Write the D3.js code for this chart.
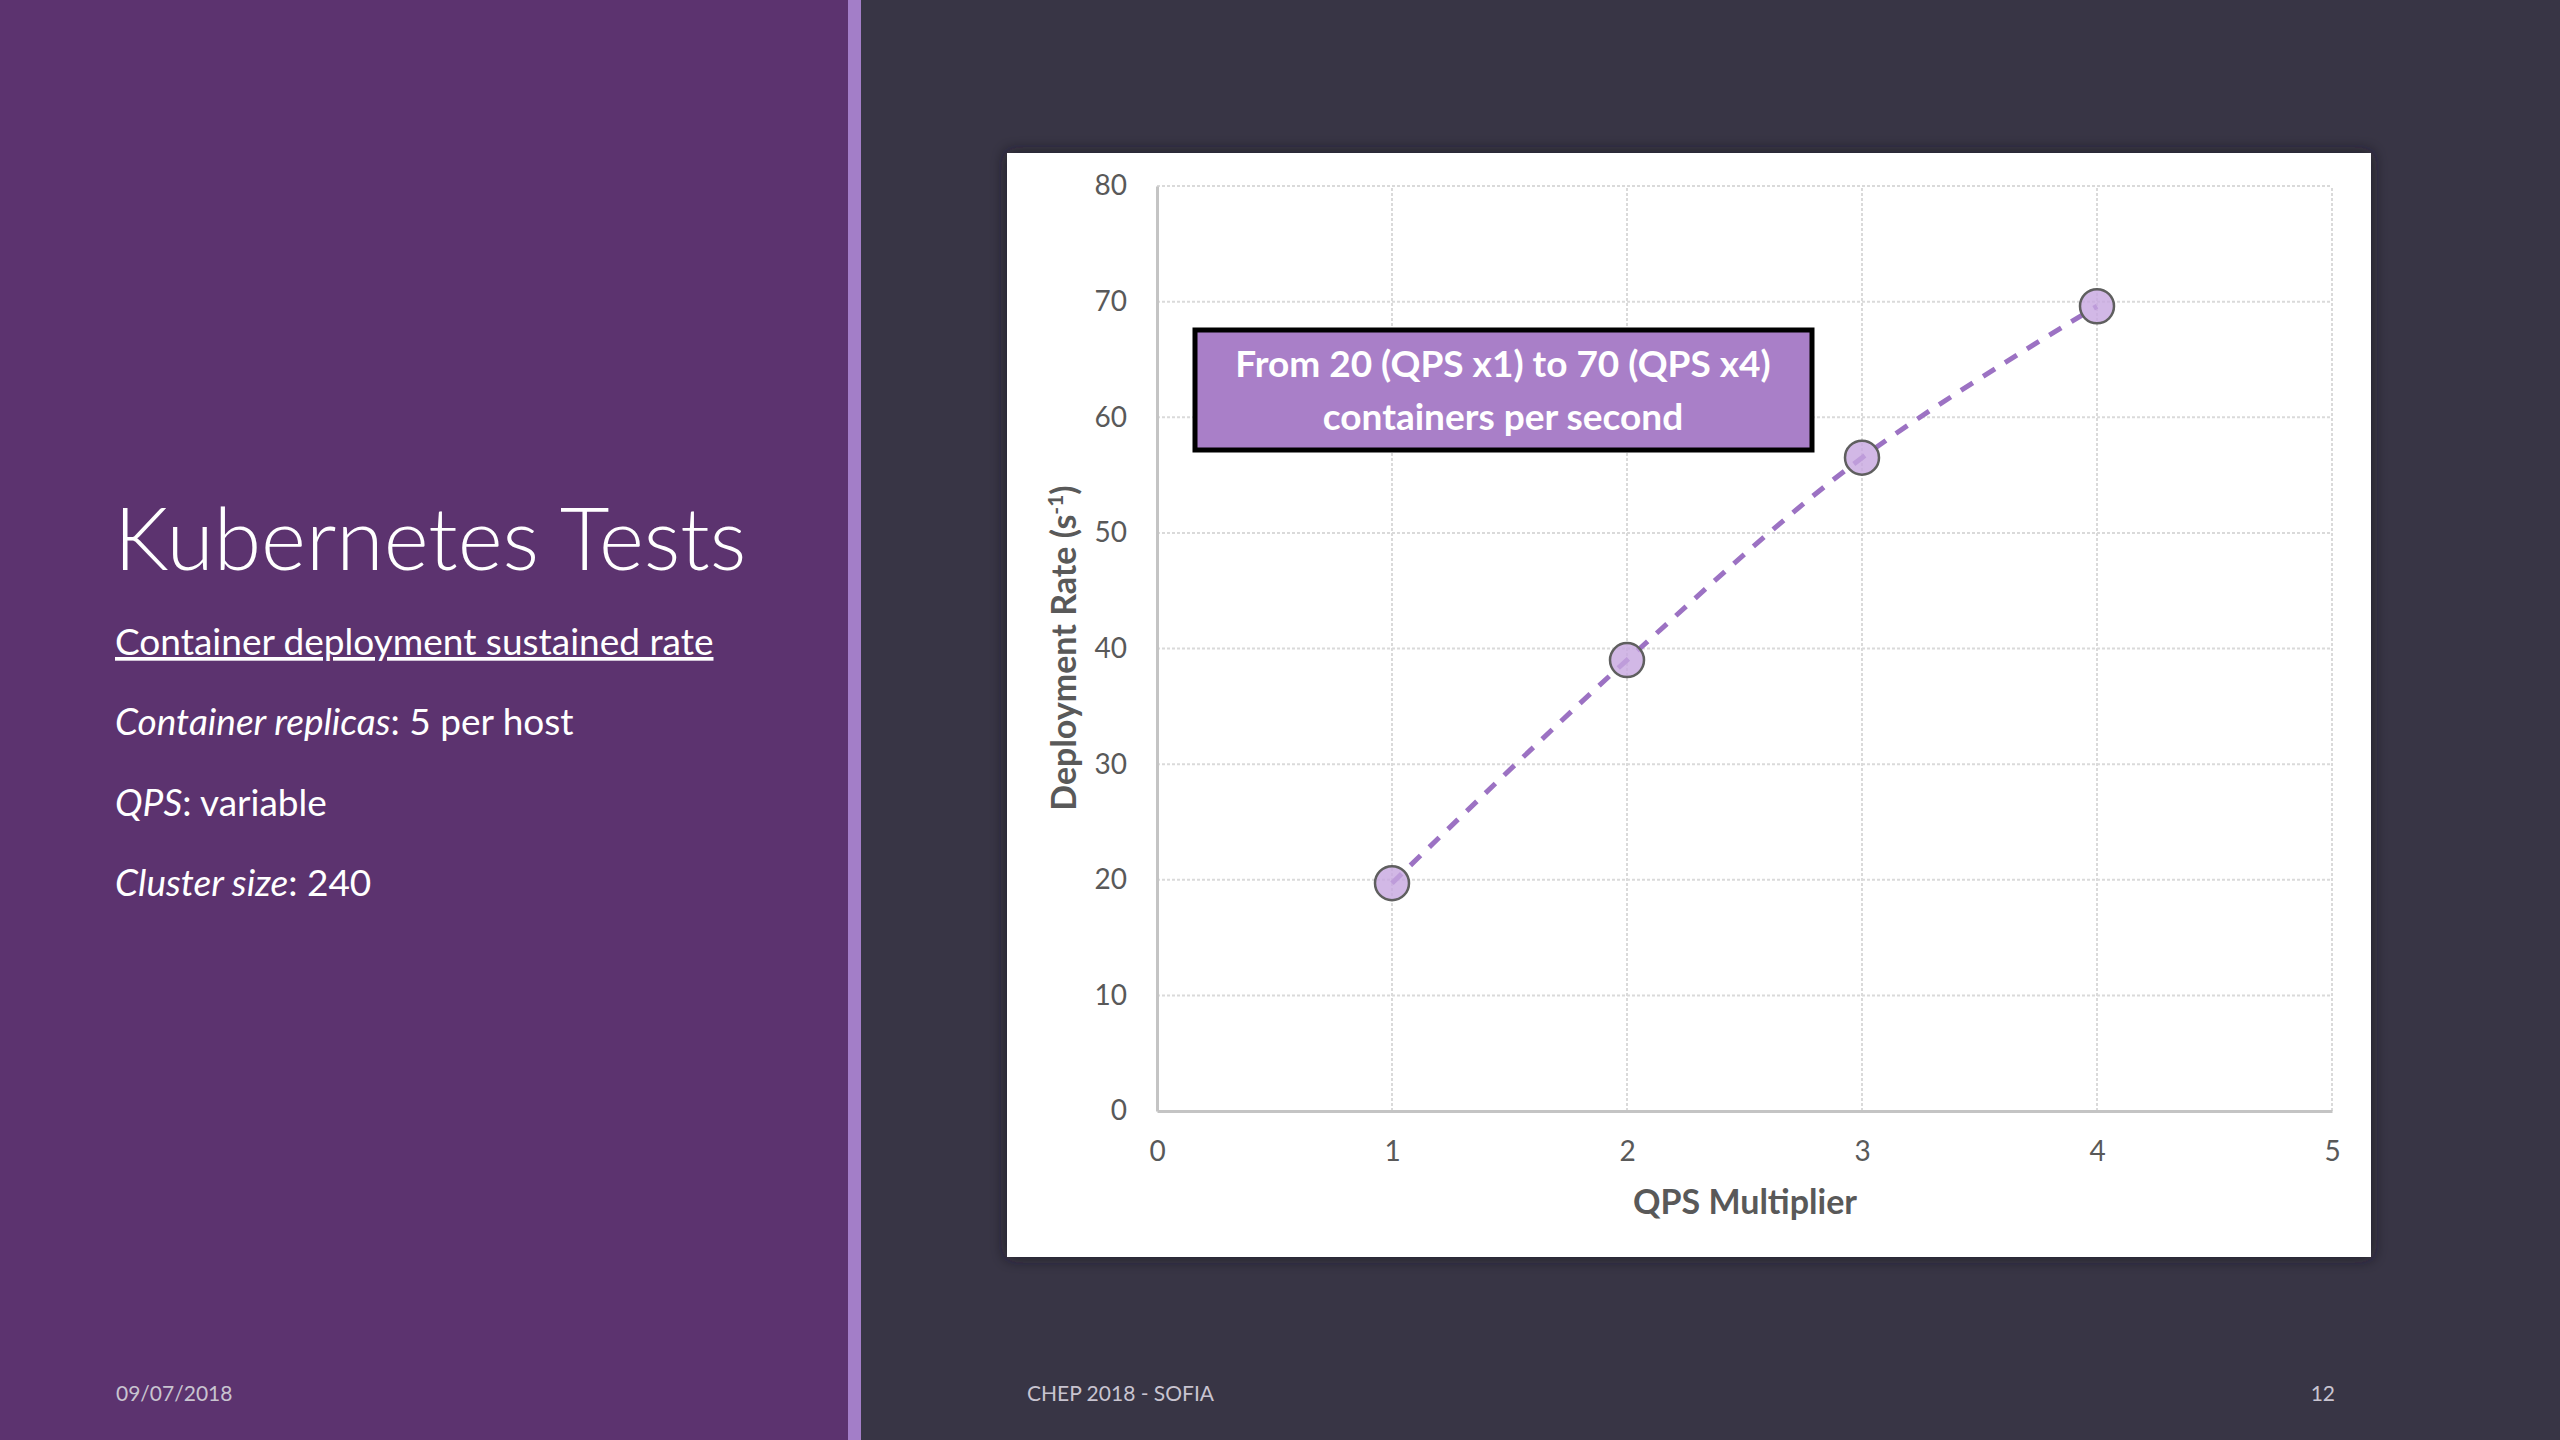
<!DOCTYPE html>
<html>
<head>
<meta charset="utf-8">
<script src="https://cdn.jsdelivr.net/npm/d3@7"></script>
<style>
  body { margin: 0; background: #383545; }
  svg { display: block; }
</style>
</head>
<body>
<div id="chart"></div>
<script>
// data
var qps = [1, 2, 3, 4];
var rate = [19.7, 39.0, 56.5, 69.6];
var xTicks = [0, 1, 2, 3, 4, 5];
var yTicks = [0, 10, 20, 30, 40, 50, 60, 70, 80];

var W = 2560, H = 1440;
var font = "Lato, 'Open Sans', sans-serif";

var svg = d3.select("#chart")
    .append("svg")
    .attr("width", W)
    .attr("height", H);

var defs = svg.append("defs");
var sh = defs.append("filter").attr("id", "shadow")
    .attr("x", "-5%").attr("y", "-5%").attr("width", "110%").attr("height", "110%");
sh.append("feGaussianBlur").attr("in", "SourceAlpha").attr("stdDeviation", 8);
sh.append("feOffset").attr("dx", 0).attr("dy", 0).attr("result", "b");
sh.append("feFlood").attr("flood-color", "#1a1822").attr("flood-opacity", 0.9);
sh.append("feComposite").attr("in2", "b").attr("operator", "in");
var mg = sh.append("feMerge");
mg.append("feMergeNode");
mg.append("feMergeNode").attr("in", "SourceGraphic");

// backgrounds
svg.append("rect").attr("width", W).attr("height", H).attr("fill", "#383545");
svg.append("rect").attr("width", 848).attr("height", H).attr("fill", "#5c336f");
svg.append("rect").attr("x", 848).attr("width", 13).attr("height", H).attr("fill", "#a37ec8");

// left text
var left = svg.append("g").attr("font-family", font).attr("fill", "#ffffff");
left.append("text").attr("x", 114).attr("y", 570)
    .attr("font-size", 86).attr("font-weight", 300).text("Kubernetes Tests");
left.append("text").attr("x", 115).attr("y", 655)
    .attr("font-size", 37).attr("text-decoration", "underline")
    .text("Container deployment sustained rate");

var t1 = left.append("text").attr("x", 115).attr("y", 735).attr("font-size", 37);
t1.append("tspan").attr("font-style", "italic").text("Container replicas");
t1.append("tspan").text(": 5 per host");
var t2 = left.append("text").attr("x", 115).attr("y", 816).attr("font-size", 37);
t2.append("tspan").attr("font-style", "italic").text("QPS");
t2.append("tspan").text(": variable");
var t3 = left.append("text").attr("x", 115).attr("y", 896).attr("font-size", 37);
t3.append("tspan").attr("font-style", "italic").text("Cluster size");
t3.append("tspan").text(": 240");

// footer
var foot = svg.append("g").attr("font-family", font).attr("font-size", 21).attr("fill", "#c8c4d0");
foot.append("text").attr("x", 116).attr("y", 1401).text("09/07/2018");
foot.append("text").attr("x", 1027).attr("y", 1401).text("CHEP 2018 - SOFIA");
foot.append("text").attr("x", 2335).attr("y", 1401).attr("text-anchor", "end").text("12");

// chart panel
svg.append("rect").attr("x", 1007).attr("y", 153).attr("width", 1364).attr("height", 1104)
    .attr("fill", "#ffffff").attr("filter", "url(#shadow)");

var x = d3.scaleLinear().domain([0, 5]).range([1157, 2332]);
var y = d3.scaleLinear().domain([0, 80]).range([1111, 186]);

var plot = svg.append("g");

// grid
plot.selectAll(".hgrid").data(yTicks.slice(1)).enter().append("line")
    .attr("x1", x(0)).attr("x2", x(5))
    .attr("y1", function(d) { return y(d); }).attr("y2", function(d) { return y(d); })
    .attr("stroke", "#dadada").attr("stroke-width", 2).attr("stroke-dasharray", "3,2");
plot.selectAll(".vgrid").data(xTicks.slice(1)).enter().append("line")
    .attr("y1", y(0)).attr("y2", y(80))
    .attr("x1", function(d) { return x(d); }).attr("x2", function(d) { return x(d); })
    .attr("stroke", "#dadada").attr("stroke-width", 2).attr("stroke-dasharray", "3,2");

// axes
var xAxis = plot.append("g").attr("transform", "translate(0," + y(0) + ")")
    .call(d3.axisBottom(x).tickValues(xTicks).tickFormat(d3.format("d")).tickSize(0).tickPadding(30));
var yAxis = plot.append("g").attr("transform", "translate(" + x(0) + ",0)")
    .call(d3.axisLeft(y).tickValues(yTicks).tickFormat(d3.format("d")).tickSize(0).tickPadding(30));
[xAxis, yAxis].forEach(function(a) {
    a.select(".domain").attr("stroke", "#c4c4c4").attr("stroke-width", 3);
    a.selectAll("text").attr("font-family", font).attr("font-size", 28).attr("fill", "#595959");
});

// axis titles
plot.append("text").attr("x", 1745).attr("y", 1214).attr("text-anchor", "middle")
    .attr("font-family", font).attr("font-size", 34).attr("font-weight", 700)
    .attr("fill", "#595959").text("QPS Multiplier");
var yt = plot.append("text").attr("transform", "translate(1076,648) rotate(-90)")
    .attr("text-anchor", "middle").attr("font-family", font).attr("font-size", 34)
    .attr("font-weight", 700).attr("fill", "#595959");
yt.append("tspan").text("Deployment Rate (s");
yt.append("tspan").attr("font-size", 21).attr("dy", -13).text("-1");
yt.append("tspan").attr("dy", 13).text(")");

// series
var pts = qps.map(function(d, i) { return [d, rate[i]]; });
var line = d3.line()
    .x(function(d) { return x(d[0]); })
    .y(function(d) { return y(d[1]); })
    .curve(d3.curveCatmullRom.alpha(0.5));

plot.append("path").datum(pts).attr("d", line)
    .attr("fill", "none").attr("stroke", "#9c72c3").attr("stroke-width", 5)
    .attr("stroke-dasharray", "14,12");

plot.selectAll(".pt").data(pts).enter().append("circle")
    .attr("cx", function(d) { return x(d[0]); })
    .attr("cy", function(d) { return y(d[1]); })
    .attr("r", 17)
    .attr("fill", "#c7a6e0").attr("fill-opacity", 0.8)
    .attr("stroke", "#5f5f5f").attr("stroke-width", 2.5);

// annotation
var note = svg.append("g");
note.append("rect").attr("x", 1195).attr("y", 330).attr("width", 617).attr("height", 120)
    .attr("fill", "#a97fc8").attr("stroke", "#000000").attr("stroke-width", 5);
note.append("text").attr("x", 1503).attr("y", 377).attr("text-anchor", "middle")
    .attr("font-family", font).attr("font-size", 37).attr("font-weight", 700)
    .attr("fill", "#ffffff").text("From 20 (QPS x1) to 70 (QPS x4)");
note.append("text").attr("x", 1503).attr("y", 430).attr("text-anchor", "middle")
    .attr("font-family", font).attr("font-size", 37).attr("font-weight", 700)
    .attr("fill", "#ffffff").text("containers per second");
</script>
</body>
</html>
